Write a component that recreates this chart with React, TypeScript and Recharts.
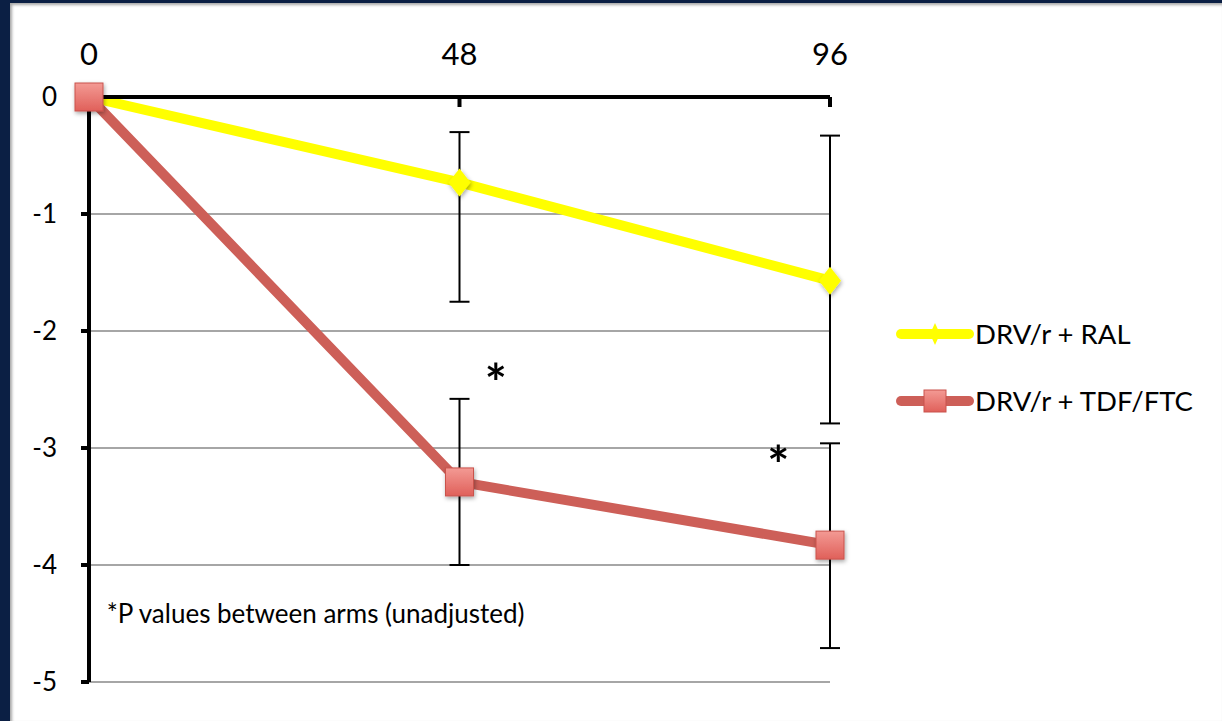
import type { ReactElement } from "react";
import {
  CartesianGrid,
  ErrorBar,
  Line,
  LineChart,
  ReferenceDot,
  XAxis,
  YAxis,
} from "recharts";

const weeks = [0, 48, 96];
const xTicks = [0, 48, 96];
const yTicks = [0, -1, -2, -3, -4, -5];

const ralName = "DRV/r + RAL";
const ralMean = [0, -0.73, -1.57];
const ralErrDown = [null, 1.02, 1.22];
const ralErrUp = [null, 0.43, 1.24];

const tdfName = "DRV/r + TDF/FTC";
const tdfMean = [0, -3.29, -3.83];
const tdfErrDown = [null, 0.71, 0.88];
const tdfErrUp = [null, 0.71, 0.87];

// asterisks marking significant differences, in data units
const starX = [52.7, 89.3];
const starY = [-2.4, -3.1];
const footnote = "*P values between arms (unadjusted)";

const YELLOW = "#ffff00";
const RED = "#cd5f58";
const FONT = "Lato, 'Open Sans', sans-serif";

const data = weeks.map((w, i) => ({
  week: w,
  ral: ralMean[i],
  ralErr: ralErrDown[i] == null ? null : [ralErrDown[i], ralErrUp[i]],
  tdf: tdfMean[i],
  tdfErr: tdfErrDown[i] == null ? null : [tdfErrDown[i], tdfErrUp[i]],
}));

function Diamond(props: any): ReactElement {
  const { cx, cy } = props;
  if (cx == null || cy == null) return <g />;
  return (
    <polygon
      points={`${cx},${cy - 14} ${cx + 11},${cy} ${cx},${cy + 14} ${cx - 11},${cy}`}
      fill={YELLOW}
      filter="url(#mk-shadow)"
    />
  );
}

function Square(props: any): ReactElement {
  const { cx, cy } = props;
  if (cx == null || cy == null) return <g />;
  return (
    <rect
      x={cx - 14}
      y={cy - 14}
      width={28}
      height={28}
      fill="url(#sq-grad)"
      stroke="#c9534c"
      strokeWidth={1}
      filter="url(#mk-shadow)"
    />
  );
}

function LegendBox(): ReactElement {
  const row = (name: string, kind: "ral" | "tdf") => (
    <div style={{ display: "flex", alignItems: "center", height: 67 }}>
      <svg width={80} height={34}>
        <defs>
          <linearGradient id="lg-grad" x1="0" y1="0" x2="0" y2="1">
            <stop offset="0%" stopColor="#f39a94" />
            <stop offset="100%" stopColor="#e0605a" />
          </linearGradient>
        </defs>
        <line
          x1={6}
          y1={17}
          x2={74}
          y2={17}
          stroke={kind === "ral" ? YELLOW : RED}
          strokeWidth={10}
          strokeLinecap="round"
        />
        {kind === "ral" ? (
          <polygon points="40,6 45,17 40,28 35,17" fill={YELLOW} />
        ) : (
          <rect
            x={29}
            y={6}
            width={22}
            height={22}
            fill="url(#lg-grad)"
            stroke="#c9534c"
          />
        )}
      </svg>
      <span style={{ fontFamily: FONT, fontSize: 27.5, color: "#000" }}>
        {name}
      </span>
    </div>
  );
  return (
    <div style={{ position: "absolute", left: 895, top: 300 }}>
      {row(ralName, "ral")}
      {row(tdfName, "tdf")}
    </div>
  );
}

export default function App(): ReactElement {
  return (
    <div
      style={{
        position: "absolute",
        left: 0,
        top: 0,
        width: 1222,
        height: 721,
        background: "#0b1f44",
        overflow: "hidden",
      }}
    >
      <div
        style={{
          position: "absolute",
          left: 10,
          top: 3,
          right: 0,
          bottom: 0,
          background: "#ffffff",
          boxShadow: "inset 2px 2px 3px rgba(0,0,0,0.35)",
        }}
      />
      <div style={{ position: "absolute", left: 0, top: 0 }}>
        <LineChart
          width={1222}
          height={721}
          data={data}
          margin={{ top: 0, right: 392, bottom: 39, left: 0 }}
        >
          <defs>
            <linearGradient id="sq-grad" x1="0" y1="0" x2="0" y2="1">
              <stop offset="0%" stopColor="#f39a94" />
              <stop offset="100%" stopColor="#e0605a" />
            </linearGradient>
            <filter id="mk-shadow" x="-50%" y="-50%" width="200%" height="200%">
              <feDropShadow dx="1" dy="2" stdDeviation="2" floodOpacity="0.35" />
            </filter>
          </defs>
          <CartesianGrid vertical={false} stroke="#a6a6a6" strokeWidth={2} />
          <XAxis
            dataKey="week"
            type="number"
            orientation="top"
            domain={[0, 96]}
            ticks={xTicks}
            height={97}
            axisLine={{ stroke: "#000", strokeWidth: 4 }}
            tickLine={{ stroke: "#000", strokeWidth: 4 }}
            tickSize={-10}
            tickMargin={42}
            tick={{ fill: "#000", fontSize: 31, fontFamily: FONT }}
          />
          <YAxis
            type="number"
            domain={[-5, 0]}
            ticks={yTicks}
            width={89}
            axisLine={{ stroke: "#000", strokeWidth: 4 }}
            tickLine={{ stroke: "#000", strokeWidth: 4 }}
            tickSize={8}
            tickMargin={24}
            tick={{ fill: "#000", fontSize: 26, fontFamily: FONT }}
          />
          <Line
            dataKey="ral"
            name={ralName}
            stroke={YELLOW}
            strokeWidth={10}
            dot={<Diamond />}
            activeDot={false}
            isAnimationActive={false}
          >
            <ErrorBar dataKey="ralErr" width={10} stroke="#000" strokeWidth={2} direction="y" />
          </Line>
          <Line
            dataKey="tdf"
            name={tdfName}
            stroke={RED}
            strokeWidth={10}
            dot={<Square />}
            activeDot={false}
            isAnimationActive={false}
          >
            <ErrorBar dataKey="tdfErr" width={10} stroke="#000" strokeWidth={2} direction="y" />
          </Line>
          {starX.map((sx, i) => (
            <ReferenceDot
              key={i}
              x={sx}
              y={starY[i]}
              r={0}
              shape={(p: any) => (
                <text
                  x={p.cx}
                  y={p.cy + 24}
                  textAnchor="middle"
                  fontFamily={FONT}
                  fontWeight={700}
                  fontSize={52}
                  fill="#000"
                >
                  *
                </text>
              )}
            />
          ))}
          <ReferenceDot
            x={2.3}
            y={-4.41}
            r={0}
            shape={(p: any) => (
              <text
                x={p.cx}
                y={p.cy}
                dominantBaseline="central"
                fontFamily={FONT}
                fontSize={26}
                fill="#000"
              >
                {footnote}
              </text>
            )}
          />
        </LineChart>
      </div>
      <LegendBox />
    </div>
  );
}
